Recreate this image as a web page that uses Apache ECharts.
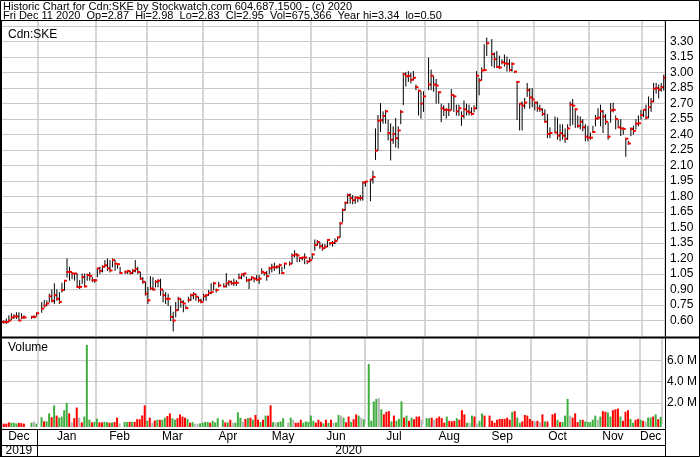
<!DOCTYPE html>
<html><head><meta charset="utf-8">
<script src="https://cdn.jsdelivr.net/npm/echarts@6/dist/echarts.min.js"></script>
<style>html,body{margin:0;padding:0;background:#fff}#c{width:700px;height:457px}</style>
</head><body><div id="c"></div>
<script>
// ---------- DATA ----------
const firstDay = '2019-12-11';
const lastDay = '2020-12-11';
const holidays = ['2019-12-25','2019-12-26','2020-01-01','2020-02-17','2020-04-10','2020-05-18','2020-07-01','2020-08-03','2020-09-07','2020-10-12'];
const monthNames = ['Jan','Feb','Mar','Apr','May','Jun','Jul','Aug','Sep','Oct','Nov','Dec'];
const priceTicks = [0.60,0.75,0.90,1.05,1.20,1.35,1.50,1.65,1.80,1.95,2.10,2.25,2.40,2.55,2.70,2.85,3.00,3.15,3.30];
const volumeTicksM = [2,4,6];

const high = [
 0.60,0.60,0.62,0.65,0.67,0.66,0.68,0.68,0.67,0.65,0.645,0.65,0.68,
 0.78,0.80,0.795,0.86,0.90,0.96,0.90,0.875,0.965,0.99,1.20,1.12,1.07,1.06,1.055,0.99,1.055,1.055,1.055,1.07,1.02,1.00,
 1.105,1.12,1.135,1.185,1.20,1.185,1.20,1.185,1.15,1.12,1.085,1.09,1.08,1.10,1.185,1.12,1.07,1.02,0.975,
 0.925,1.03,1.02,0.99,1.00,1.005,0.895,0.875,0.86,0.745,0.685,0.78,0.83,0.81,0.795,0.745,0.83,0.86,0.875,0.86,0.83,0.81,
 0.86,0.86,0.895,0.96,0.975,0.91,0.975,0.96,1.06,0.99,0.985,1.005,0.99,1.055,1.055,1.06,1.025,1.005,1.03,1.015,1.04,
 1.04,1.105,1.07,1.08,1.12,1.15,1.16,1.135,1.15,1.12,1.16,1.17,1.25,1.28,1.25,1.215,1.215,1.25,1.185,1.215,
 1.25,1.385,1.38,1.36,1.345,1.34,1.385,1.36,1.37,1.395,1.41,1.555,1.685,1.75,1.83,1.83,1.815,1.805,1.80,1.815,1.945,1.945,
 1.97,2.05,2.46,2.59,2.705,2.625,2.64,2.545,2.51,2.48,2.56,2.48,2.64,3.00,3.005,3.015,3.00,3.015,2.885,2.835,2.82,2.82,
 3.145,3.03,2.965,2.94,2.82,2.70,2.685,2.655,2.705,2.84,2.785,2.69,2.69,2.625,2.73,2.70,2.69,2.665,2.685,3.015,
 2.95,3.05,3.275,3.34,3.325,3.195,3.21,3.165,3.13,3.175,3.155,3.13,3.10,3.015,2.92,2.705,2.72,2.755,2.90,2.85,2.85,
 2.72,2.72,2.69,2.655,2.645,2.60,2.47,2.575,2.565,2.50,2.50,2.46,2.50,2.72,2.745,2.655,2.585,2.575,2.55,2.50,2.485,
 2.42,2.485,2.59,2.655,2.69,2.64,2.60,2.52,2.705,2.71,2.585,2.545,2.55,2.47,2.37,2.34,2.47,2.485,2.55,2.585,2.64,
 2.645,2.69,2.77,2.755,2.90,2.90,2.885,2.90,2.98
];
const low = [
 0.57,0.575,0.57,0.59,0.61,0.62,0.62,0.60,0.62,0.62,0.62,0.625,0.65,
 0.68,0.73,0.745,0.78,0.78,0.765,0.795,0.765,0.875,0.895,1.02,0.99,1.005,0.99,0.925,0.91,0.96,0.925,0.99,0.99,0.975,0.97,
 1.025,1.055,1.07,1.12,1.085,1.07,1.12,1.085,1.105,1.055,1.055,1.055,1.05,1.055,1.07,1.055,1.00,0.96,0.845,
 0.765,0.90,0.895,0.925,0.925,0.845,0.78,0.765,0.745,0.60,0.50,0.635,0.70,0.73,0.685,0.715,0.78,0.795,0.81,0.795,0.78,0.77,
 0.795,0.795,0.845,0.86,0.895,0.875,0.925,0.925,0.925,0.94,0.95,0.94,0.94,1.005,1.005,1.025,0.975,0.91,0.995,0.975,0.99,
 0.96,1.055,1.04,0.99,1.055,1.07,1.085,1.105,1.055,1.055,1.105,1.135,1.15,1.215,1.17,1.17,1.185,1.15,1.15,1.17,
 1.20,1.28,1.33,1.30,1.28,1.30,1.315,1.33,1.32,1.345,1.38,1.41,1.555,1.67,1.735,1.735,1.73,1.735,1.75,1.765,1.765,1.90,
 1.76,1.93,2.16,2.25,2.43,2.51,2.51,2.35,2.155,2.315,2.28,2.27,2.505,2.69,2.87,2.915,2.90,2.93,2.835,2.59,2.56,2.625,
 2.835,2.835,2.82,2.705,2.705,2.525,2.585,2.56,2.585,2.64,2.625,2.59,2.585,2.49,2.56,2.59,2.59,2.59,2.62,2.65,
 2.785,2.93,3.025,3.165,3.065,3.05,3.05,3.04,3.085,3.065,3.015,3.015,3.015,3.00,2.545,2.445,2.445,2.655,2.77,2.655,2.67,
 2.64,2.625,2.625,2.585,2.52,2.37,2.37,2.42,2.355,2.34,2.355,2.325,2.355,2.485,2.50,2.47,2.47,2.455,2.435,2.34,2.34,
 2.355,2.42,2.485,2.55,2.485,2.42,2.50,2.355,2.52,2.62,2.455,2.47,2.39,2.405,2.19,2.305,2.39,2.405,2.455,2.485,2.55,
 2.575,2.55,2.565,2.625,2.72,2.80,2.755,2.82,2.83
];
const close = [
 0.585,0.585,0.585,0.60,0.63,0.64,0.64,0.60,0.63,0.63,0.635,0.635,0.67,
 0.715,0.745,0.765,0.835,0.79,0.845,0.81,0.78,0.895,0.985,1.07,1.07,1.055,1.055,0.925,0.925,1.02,0.93,1.04,1.03,0.99,0.99,
 1.105,1.08,1.12,1.135,1.105,1.085,1.185,1.15,1.145,1.06,1.07,1.08,1.06,1.08,1.10,1.07,1.005,0.975,0.86,
 0.795,0.91,0.90,0.975,0.985,0.90,0.845,0.81,0.81,0.635,0.60,0.70,0.81,0.78,0.765,0.72,0.80,0.845,0.855,0.83,0.795,0.78,
 0.835,0.845,0.865,0.875,0.96,0.895,0.94,0.93,0.96,0.975,0.96,0.965,0.965,1.015,1.045,1.055,0.99,0.995,1.015,1.005,0.995,
 1.005,1.07,1.06,1.03,1.105,1.115,1.115,1.12,1.135,1.06,1.15,1.15,1.23,1.24,1.23,1.205,1.21,1.21,1.17,1.185,
 1.24,1.33,1.36,1.32,1.30,1.315,1.38,1.35,1.35,1.37,1.405,1.54,1.67,1.74,1.815,1.785,1.765,1.79,1.785,1.785,1.935,1.945,
 1.965,1.99,2.245,2.535,2.54,2.58,2.625,2.415,2.35,2.405,2.365,2.44,2.62,2.985,2.965,2.97,2.93,2.95,2.86,2.825,2.70,2.77,
 2.885,2.97,2.885,2.875,2.81,2.655,2.64,2.64,2.635,2.785,2.77,2.625,2.655,2.58,2.645,2.625,2.615,2.60,2.655,2.97,
 2.925,3.02,3.025,3.285,3.18,3.13,3.055,3.05,3.10,3.09,3.085,3.025,3.085,3.01,2.91,2.70,2.68,2.71,2.83,2.76,2.74,
 2.71,2.655,2.645,2.60,2.525,2.405,2.415,2.42,2.39,2.415,2.39,2.36,2.46,2.69,2.68,2.645,2.485,2.525,2.47,2.38,2.37,
 2.37,2.425,2.555,2.565,2.625,2.575,2.525,2.38,2.635,2.64,2.55,2.47,2.46,2.455,2.36,2.315,2.455,2.435,2.505,2.51,2.59,
 2.64,2.565,2.665,2.72,2.845,2.85,2.835,2.86,2.95
];
// volume in millions of shares
const volumeM = [
 0.10,0.03,0.03,0.15,0.12,0.12,0.05,0.10,0.08,0.03,0.12,0.24,0.03,
 0.64,0.25,0.25,1.0,0.64,1.75,0.79,0.6,0.7,1.3,2.0,1.0,0.15,0.55,1.55,0.6,0.15,0.7,7.45,0.4,0.15,0.2,
 0.5,0.15,0.15,0.2,0.18,0.12,0.15,0.18,0.6,0.05,0.2,0.18,0.2,0.2,0.2,0.45,0.45,0.8,1.75,
 0.3,0.6,0.12,0.33,0.4,0.4,0.4,0.6,0.76,1.0,0.55,0.4,0.55,0.9,0.7,0.6,0.48,0.12,0.18,0.03,0.03,0.06,
 0.12,0.2,0.18,0.12,0.3,0.15,0.55,0.4,0.15,0.15,0.4,0.12,0.12,1.1,0.6,0.2,0.48,0.55,0.6,0.4,0.85,
 0.4,0.18,0.4,0.79,0.79,1.76,0.18,0.12,0.18,0.24,0.55,0.12,0.6,0.4,0.12,0.12,0.4,0.12,0.24,0.18,
 0.79,0.3,0.12,0.4,0.2,0.06,0.4,0.12,0.4,0.12,0.15,0.85,0.79,0.6,0.15,0.7,0.2,0.45,0.9,0.79,0.6,0.45,
 5.64,0.3,2.12,2.36,2.45,1.39,0.91,1.15,1.21,0.24,0.79,0.3,0.48,2.12,0.6,0.79,0.3,0.6,0.45,0.7,0.7,0.4,
 0.55,0.55,0.6,0.4,0.55,0.7,0.55,0.12,0.7,0.3,0.24,0.3,0.55,0.4,1.3,0.91,0.12,0.12,0.79,0.7,
 0.03,0.3,1.0,0.79,0.79,0.3,0.12,0.4,0.48,0.48,0.48,0.6,0.4,1.15,1.21,0.6,0.12,0.24,0.85,0.79,0.48,
 0.3,0.24,0.3,0.18,0.91,0.24,0.24,0.91,1.0,0.4,0.18,0.18,0.79,2.36,0.79,0.6,1.0,0.18,0.4,0.4,0.24,
 0.18,0.18,0.4,0.79,0.4,0.7,1.21,1.15,1.09,0.7,1.3,1.39,1.45,0.7,0.3,1.15,1.3,0.48,0.12,0.4,0.48,
 0.4,0.3,0.24,0.6,0.6,0.7,0.91,0.45,0.675
];
// day direction as shown by the volume colour: u = up, d = down, n = unchanged
const volumeDir = [
 'n','d','d','d','u','u','u','d','d','d','u','n','u',
 'u','d','u','u','d','u','d','u','u','u','u','d','n','d','d','n','d','u','u','u','d','u',
 'u','d','d','u','u','d','u','d','d','n','u','u','d','u','d','d','d','d','d',
 'u','d','n','d','u','d','u','u','d','d','u','u','d','d','d','d','u','d','u','n','n','u',
 'u','u','u','d','u','u','u','u','d','u','d','n','u','u','u','n','d','u','d','u','d',
 'd','u','d','u','d','d','u','n','u','u','u','n','u','n','d','d','d','u','u','u',
 'u','u','d','d','d','u','d','u','d','n','u','u','n','u','d','d','u','d','d','u','n','u',
 'u','u','u','u','n','u','d','d','d','u','d','u','u','u','d','u','d','u','d','d','d','n',
 'u','u','d','n','d','d','d','d','u','d','d','d','u','d','d','d','u','n','u','d',
 'n','u','u','d','d','d','d','d','d','d','d','d','d','u','d','u','u','d','d','d','d',
 'd','n','d','n','d','u','d','d','d','u','d','u','u','u','n','d','d','d','u','d','u',
 'u','u','u','u','n','u','d','d','u','u','d','d','d','u','d','d','d','u','u','d','d',
 'u','d','n','u','u','d','u','d','u'
];

// ---------- BUILD ----------
const cats = [];
{
  let t = Date.parse(firstDay + 'T00:00:00Z'); const end = Date.parse(lastDay + 'T00:00:00Z');
  while (t <= end) { const d = new Date(t); const wd = d.getUTCDay(); if (wd !== 0 && wd !== 6) cats.push(d.toISOString().slice(0,10)); t += 86400000; }
}
const tradeIdx = [];
cats.forEach((c,i)=>{ if (!holidays.includes(c)) tradeIdx.push(i); });
const monthStart = new Set(); const monthLabelIdx = {}; const yearLabelIdx = {};
{
  const groups = {}; const ygroups = {};
  cats.forEach((c,i)=>{ const k = c.slice(0,7); (groups[k] = groups[k] || []).push(i); const y = c.slice(0,4); (ygroups[y] = ygroups[y] || []).push(i); });
  Object.keys(groups).forEach((k,j)=>{ const a = groups[k]; if (j>0) monthStart.add(a[0]); monthLabelIdx[Math.floor((a[0]+a[a.length-1])/2)] = monthNames[+k.slice(5,7)-1]; });
  Object.keys(ygroups).forEach(y=>{ const a = ygroups[y]; yearLabelIdx[Math.floor((a[0]+a[a.length-1])/2)] = y; });
}
const priceData = tradeIdx.map((ci,k)=>[ci, high[k], low[k], close[k]]);
const volData = tradeIdx.map((ci,k)=>[ci, volumeM[k], volumeDir[k]==='u'?1:(volumeDir[k]==='d'?-1:0)]);

const FONT = "'Liberation Sans', Arial, sans-serif";
const GRID_C = '#c8c8c8';
const chart = echarts.init(document.getElementById('c'), null, {renderer:'canvas'});

function renderPrice(params, api){
  const i = api.value(0);
  const h = api.coord([i, api.value(1)]), l = api.coord([i, api.value(2)]), c = api.coord([i, api.value(3)]);
  const x = h[0];
  return {type:'group', children:[
    {type:'line', shape:{x1:x, y1:h[1], x2:x, y2:l[1]+0.5}, style:{stroke:'#000', lineWidth:1}},
    {type:'rect', shape:{x:x-0.5, y:c[1]-1, width:3, height:2}, style:{fill:'#ff0000'}}
  ]};
}
function renderVol(params, api){
  const i = api.value(0);
  const top = api.coord([i, api.value(1)]); const base = api.coord([i, 0]);
  const dir = api.value(2);
  const col = dir > 0 ? '#3fae3f' : (dir < 0 ? '#ff0000' : '#b4b4b4');
  return {type:'rect', shape:{x:top[0]-1, y:top[1], width:2, height:base[1]+3-top[1]}, style:{fill:col}};
}
const txt = (x,y,s,size) => ({type:'text', x:x, y:y, style:{text:s, font:(size||11)+'px '+FONT, fill:'#000', verticalAlign:'top'}, z:10});
const hl = (x1,x2,y,w) => ({type:'line', shape:{x1:x1,y1:y,x2:x2,y2:y}, style:{stroke:'#000', lineWidth:w||1}, z:10});
const vl = (x,y1,y2,w) => ({type:'line', shape:{x1:x,y1:y1,x2:x,y2:y2}, style:{stroke:'#000', lineWidth:w||1}, z:10});

chart.setOption({
  animation:false,
  backgroundColor:'#fff',
  grid:[
    {left:0, right:35, top:21, height:315},
    {left:0, right:35, top:339, height:87}
  ],
  xAxis:[
    {gridIndex:0, type:'category', data:cats, boundaryGap:true,
     axisLine:{show:false}, axisTick:{show:false}, axisLabel:{show:false},
     splitLine:{show:true, interval:(i)=>monthStart.has(i), lineStyle:{color:GRID_C, width:1.5}}},
    {gridIndex:1, type:'category', data:cats, boundaryGap:true,
     axisLine:{show:false}, axisTick:{show:false},
     axisLabel:{show:true, interval:(i)=>monthLabelIdx[i]!==undefined, formatter:(v,i)=>monthLabelIdx[i]||'', margin:7, fontSize:12, fontFamily:FONT, color:'#000'},
     splitLine:{show:true, interval:(i)=>monthStart.has(i), lineStyle:{color:GRID_C, width:1.5}}},
    {gridIndex:1, type:'category', data:cats, boundaryGap:true, position:'bottom',
     axisLine:{show:false}, axisTick:{show:false}, splitLine:{show:false},
     axisLabel:{show:true, interval:(i)=>yearLabelIdx[i]!==undefined, formatter:(v,i)=>yearLabelIdx[i]||'', margin:21, fontSize:12, fontFamily:FONT, color:'#000'}}
  ],
  yAxis:[
    {gridIndex:0, type:'value', position:'right', min:0.45, max:3.5, interval:0.15,
     axisLine:{show:false}, axisTick:{show:false},
     axisLabel:{margin:5, fontSize:12, fontFamily:FONT, color:'#000',
       formatter:(v)=> priceTicks.some(t=>Math.abs(t-v)<1e-6) ? v.toFixed(2) : ''},
     splitLine:{show:true, showMinLine:false, showMaxLine:false, lineStyle:{color:GRID_C, width:1}}},
    {gridIndex:1, type:'value', position:'right', min:0, max:8, interval:2,
     axisLine:{show:false}, axisTick:{show:false},
     axisLabel:{margin:5, fontSize:12, fontFamily:FONT, color:'#000',
       formatter:(v)=> volumeTicksM.includes(Math.round(v)) && Math.abs(v-Math.round(v))<1e-6 ? v.toFixed(1)+' M' : ''},
     splitLine:{show:true, showMinLine:false, showMaxLine:false, lineStyle:{color:GRID_C, width:1}}}
  ],
  series:[
    {type:'custom', xAxisIndex:0, yAxisIndex:0, data:priceData, renderItem:renderPrice, clip:false, encode:{x:0, y:[1,2,3]}},
    {type:'custom', xAxisIndex:1, yAxisIndex:1, data:volData, renderItem:renderVol, clip:false, encode:{x:0, y:1}}
  ],
  graphic:[
    {type:'rect', shape:{x:0.5, y:0.5, width:699, height:456}, style:{fill:null, stroke:'#000', lineWidth:1}, z:10},
    txt(3, 1, 'Historic Chart for Cdn:SKE by Stockwatch.com 604.687.1500 - (c) 2020'),
    txt(3, 10.5, 'Fri Dec 11 2020  Op=2.87  Hi=2.98  Lo=2.83  Cl=2.95  Vol=675,366  Year hi=3.34  lo=0.50'),
    hl(0, 700, 20.5, 1),
    vl(665.5, 20, 457, 1),
    vl(1, 20, 457, 2),
    hl(0, 700, 337.5, 2),
    hl(0, 666, 429.5, 1),
    hl(0, 666, 445.5, 1),
    vl(37.5, 429, 457, 1),
    txt(8, 29, 'Cdn:SKE', 12),
    txt(8, 342, 'Volume', 12)
  ]
});
</script></body></html>
